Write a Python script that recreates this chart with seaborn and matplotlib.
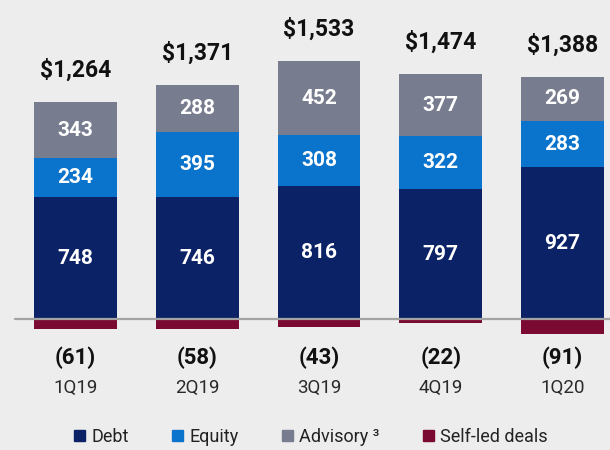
import pandas as pd
import numpy as np
import matplotlib
matplotlib.use('Agg')
import matplotlib.pyplot as plt
from matplotlib.patches import Patch
import seaborn as sns

quarters = ['1Q19', '2Q19', '3Q19', '4Q19', '1Q20']
debt = [748, 746, 816, 797, 927]
equity = [234, 395, 308, 322, 283]
advisory = [343, 288, 452, 377, 269]
self_led = [-61, -58, -43, -22, -91]
totals = ['$1,264', '$1,371', '$1,533', '$1,474', '$1,388']

c_debt = '#0c2266'
c_equity = '#0a74cc'
c_adv = '#787c8f'
c_self = '#7b0a33'
bg = '#ededed'

sns.set_style('white')
plt.rcParams['font.family'] = ['Roboto', 'DejaVu Sans']

df = pd.DataFrame({'quarter': quarters, 'debt': debt, 'equity': equity,
                   'advisory': advisory, 'self_led': self_led})
df['de'] = df['debt'] + df['equity']
df['top'] = df['de'] + df['advisory']

fig = plt.figure(figsize=(6.1, 4.5), dpi=100, facecolor=bg)
ax = fig.add_axes([0, 0, 1, 1])
ax.set_facecolor(bg)

w = 0.68
# stacked by overdrawing cumulative heights
sns.barplot(data=df, x='quarter', y='top', color=c_adv, width=w, saturation=1,
            errorbar=None, linewidth=0, ax=ax)
sns.barplot(data=df, x='quarter', y='de', color=c_equity, width=w, saturation=1,
            errorbar=None, linewidth=0, ax=ax)
sns.barplot(data=df, x='quarter', y='debt', color=c_debt, width=w, saturation=1,
            errorbar=None, linewidth=0, ax=ax)
sns.barplot(data=df, x='quarter', y='self_led', color=c_self, width=w, saturation=1,
            errorbar=None, linewidth=0, ax=ax)

ax.set_xlim(-0.62, 4.39)
ax.set_ylim(-796, 1948)
ax.axhline(0, xmin=15 / 610, xmax=1, color='#a3a3a3', lw=1.6, zorder=5)
ax.axis('off')

for i, q in enumerate(quarters):
    d, e, a = debt[i], equity[i], advisory[i]
    for y, v in [(d / 2, d), (d + e / 2, e), (d + e + a / 2, a)]:
        ax.text(i, y, str(v), ha='center', va='center', color='white',
                fontsize=15, fontweight='bold')
    ax.annotate(totals[i], (i, d + e + a), xytext=(0, 23), textcoords='offset points',
                ha='center', va='center', fontsize=16.5, fontweight='bold', color='#111111')
    ax.text(i, -232, '({})'.format(-self_led[i]), ha='center', va='center',
            fontsize=16, fontweight='bold', color='#111111')
    ax.text(i, -418, q, ha='center', va='center', fontsize=13.5, color='#2a2a2a')

handles = [Patch(color=c_debt), Patch(color=c_equity), Patch(color=c_adv), Patch(color=c_self)]
labels = ['Debt', 'Equity', 'Advisory \u00b3', 'Self-led deals']
fig.legend(handles, labels, loc='center', bbox_to_anchor=(0.51, 1 - 437 / 450), ncol=4,
           frameon=False, fontsize=13, handlelength=0.6, handleheight=0.6,
           handletextpad=0.35, columnspacing=2.4, labelcolor='#222222')

fig.savefig('out.png', dpi=100, facecolor=bg)
